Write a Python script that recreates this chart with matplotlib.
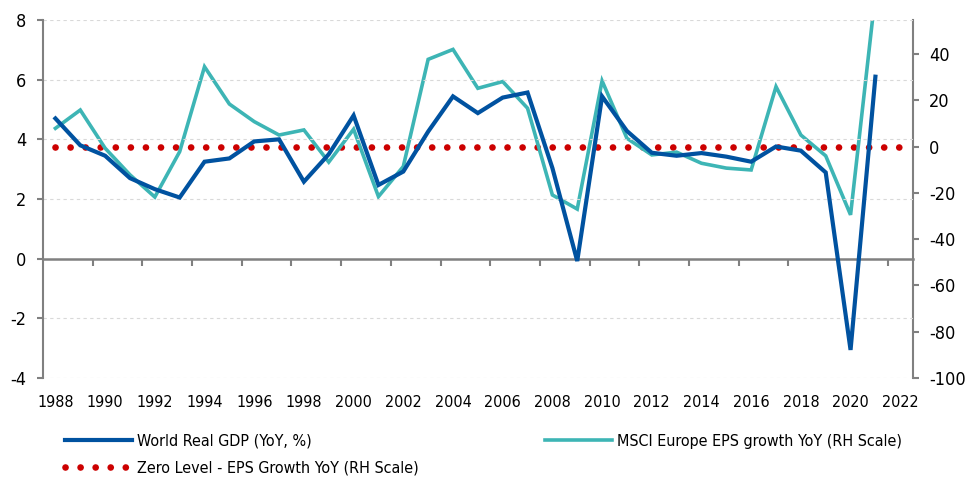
import matplotlib
matplotlib.use("Agg")
import matplotlib.pyplot as plt
import numpy as np

plt.rcParams['font.family'] = ['Liberation Sans Narrow', 'DejaVu Sans']
plt.rcParams['font.stretch'] = 'condensed'
plt.rcParams['axes.unicode_minus'] = False

# data
years = list(range(1988, 2023))
gdp_years = list(range(1988, 2022))
world_gdp = [4.7, 3.8, 3.45, 2.7, 2.33, 2.05, 3.25, 3.36, 3.93, 4.0, 2.58, 3.5,
             4.8, 2.47, 2.92, 4.26, 5.44, 4.88, 5.4, 5.57, 3.04, -0.08, 5.44, 4.28,
             3.55, 3.45, 3.54, 3.42, 3.25, 3.76, 3.62, 2.89, -3.06, 6.1]
msci_eps = [7.9, 15.8, -0.7, -12.2, -21.8, -2.2, 34.5, 18.4, 10.8, 5.0, 7.2, -6.7,
            7.5, -21.6, -8.6, 37.7, 42.0, 25.2, 28.1, 16.6, -20.9, -27.0, 28.4, 3.6,
            -3.6, -2.4, -7.2, -9.3, -10.1, 25.9, 5.0, -4.0, -29.5, 66.0]
zero_level = [0] * len(years)

left_ticks = [-4, -2, 0, 2, 4, 6, 8]
right_ticks = [-100, -80, -60, -40, -20, 0, 20, 40]
label_years = list(range(1988, 2023, 2))

BLUE = '#0052A0'
TEAL = '#3DB5B5'
RED = '#CC0000'
GREY = '#808080'
FS = 11.5

fig = plt.figure(figsize=(9.73, 4.79), dpi=100)
ax = fig.add_axes([0.0442, 0.2109, 0.8938, 0.7473])
ax2 = ax.twinx()

ax.set_xlim(1987.5, 2022.5)
ax.set_ylim(-4, 8)
ax2.set_ylim(-100, 54.7)

# gridlines (left scale)
for t in left_ticks:
    if t != 0:
        ax.axhline(t, color='#D9D9D9', lw=0.8, ls=(0, (3, 3)), zorder=0)

l1, = ax.plot(gdp_years, world_gdp, color=BLUE, lw=3.0, zorder=4,
              solid_joinstyle='miter', label='World Real GDP (YoY, %)')
l2, = ax2.plot(gdp_years, msci_eps, color=TEAL, lw=2.6, zorder=3,
               solid_joinstyle='miter', label='MSCI Europe EPS growth YoY (RH Scale)')
l3, = ax2.plot(years, zero_level, color=RED, lw=4.8, ls=(0, (0.01, 2.25)),
               dash_capstyle='round', zorder=2,
               label='Zero Level - EPS Growth YoY (RH Scale)')
ax.set_zorder(ax2.get_zorder() + 1)
ax.patch.set_visible(False)

# spines
for a in (ax, ax2):
    a.spines['top'].set_visible(False)
    a.spines['bottom'].set_visible(False)
ax.spines['right'].set_visible(False)
ax2.spines['left'].set_visible(False)
ax.spines['left'].set_color(GREY)
ax.spines['left'].set_linewidth(1.5)
ax2.spines['right'].set_color(GREY)
ax2.spines['right'].set_linewidth(1.5)

ax.set_yticks(left_ticks)
ax.tick_params(axis='y', length=4, width=1.5, color=GREY, pad=8, labelsize=FS + 1.5)
ax2.set_yticks(right_ticks)
ax2.tick_params(axis='y', length=4, width=1.5, color=GREY, pad=8, labelsize=FS + 1.5)

ax.set_xticks(label_years)
ax.tick_params(axis='x', length=0, pad=12, labelsize=FS)

# category axis crossing at zero on the left scale
sec = ax.secondary_xaxis(4 / 12)
sec.set_xticks(np.arange(1989.5, 2022.5, 2))
sec.set_xticklabels([])
sec.tick_params(axis='x', length=5, width=1.5, color=GREY, direction='out')
sec.spines['bottom'].set_color(GREY)
sec.spines['bottom'].set_linewidth(1.8)

fig.legend(handles=[l1, l3, l2], ncol=2, loc='upper left',
           bbox_to_anchor=(0.067, 0.094), frameon=False, fontsize=FS,
           handlelength=4.2, handletextpad=0.3, columnspacing=7.9,
           labelspacing=0.75, borderpad=0, borderaxespad=0)

fig.savefig('out.png', dpi=100)
